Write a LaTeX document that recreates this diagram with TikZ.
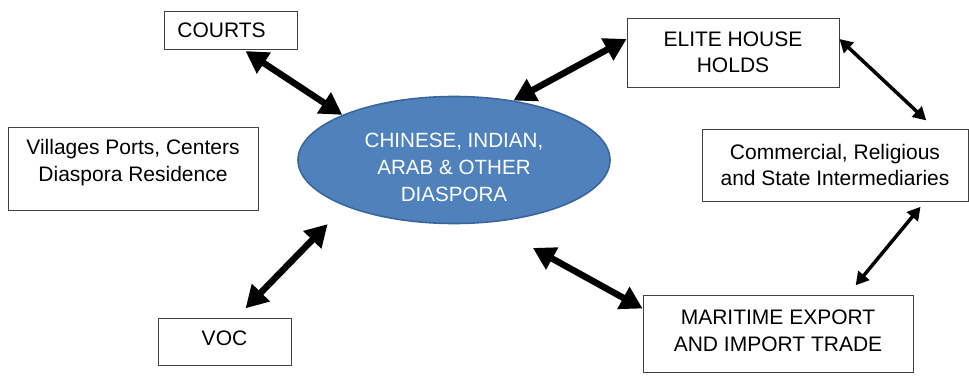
\documentclass[tikz,border=0pt]{standalone}
\usepackage{fontspec}
\setmainfont{Liberation Sans}
\usetikzlibrary{arrows.meta,shapes.geometric}
\definecolor{diasporablue}{HTML}{4F81BD}
\definecolor{diasporaedge}{HTML}{3A679A}

\begin{document}
\begin{tikzpicture}[x=1pt,y=-1pt,
  box node/.style={rectangle,draw=black!75,line width=0.8pt,align=center,inner sep=0pt,
    font=\fontsize{21}{26.5}\selectfont},
  main node/.style={ellipse,draw=diasporaedge,line width=1.6pt,fill=diasporablue,text=white,
    align=center,inner sep=0pt,minimum width=312pt,minimum height=127pt,
    font=\fontsize{20.6}{27}\selectfont},
  thick arrow/.style={line width=6.5pt,{Triangle[length=22pt,width=24pt]}-{Triangle[length=22pt,width=24pt]}},
  thin arrow/.style={line width=3.5pt,{Triangle[length=13pt,width=14pt]}-{Triangle[length=13pt,width=14pt]}}]
  \useasboundingbox (0,0) rectangle (969,375);

  \node[main node] (diaspora) at (454,160) {\rule{0pt}{29pt}CHINESE, INDIAN,\\ARAB \& OTHER\\DIASPORA};
  \node[box node,minimum width=133pt,minimum height=38pt] (courts) at (230.5,30) {COURTS\hspace*{18pt}};
  \node[box node,minimum width=212pt,minimum height=69pt] (elite) at (733,52.5) {ELITE HOUSE\\HOLDS};
  \node[box node,minimum width=250pt,minimum height=83pt] (villages) at (133,168.5) {Villages Ports, Centers\\Diaspora Residence\rule[-16pt]{0pt}{1pt}};
  \node[box node,minimum width=266pt,minimum height=72pt] (commercial) at (835,165) {Commercial, Religious\\and State Intermediaries};
  \node[box node,minimum width=133pt,minimum height=47pt] (voc) at (224.5,341.5) {VOC\rule[-7pt]{0pt}{1pt}};
  \node[box node,minimum width=270pt,minimum height=77pt] (maritime) at (778,333.5) {MARITIME EXPORT\\AND IMPORT TRADE\rule[-6pt]{0pt}{1pt}};

  \path
   ([xshift=12.5pt]courts.south) edge[thick arrow,shorten <=3pt] (diaspora.158)
   (diaspora.45) edge[thick arrow] ([yshift=13.5pt]elite.west)
   ([yshift=13.5pt]elite.east) edge[thin arrow,shorten >=12pt] ([xshift=100pt]commercial.north)
   ([xshift=90pt]commercial.south) edge[thin arrow,shorten <=7pt,shorten >=12pt] ([xshift=70pt]maritime.north)
   ([xshift=12pt]voc.north) edge[thick arrow,shorten <=13pt,shorten >=25pt] (diaspora.203)
   (diaspora.298) edge[thick arrow,shorten <=52pt] ([yshift=25pt]maritime.west);
\end{tikzpicture}
\end{document}
